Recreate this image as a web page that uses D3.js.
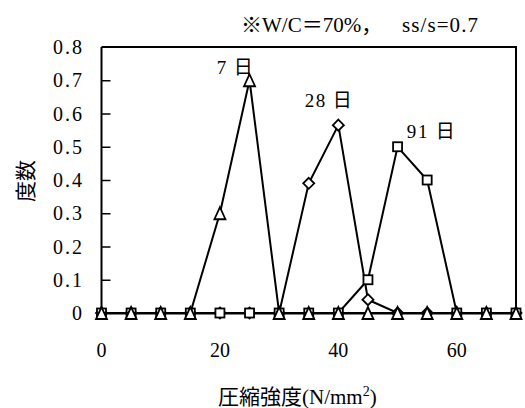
<!DOCTYPE html>
<html>
<head>
<meta charset="utf-8">
<script src="https://cdn.jsdelivr.net/npm/d3@7"></script>
<style>
  html, body { margin: 0; padding: 0; background: #fff; }
  svg { display: block; }
</style>
</head>
<body>
<svg id="chart" width="525" height="408"></svg>
<script>
// Compressive strength classes (N/mm²)
const strength = [0, 5, 10, 15, 20, 25, 30, 35, 40, 45, 50, 55, 60, 65, 70];
// Relative frequency at each age
const day7  = [0, 0, 0, 0, 0.3, 0.7, 0, 0, 0, 0, 0, 0, 0, 0, 0];
const day28 = [0, 0, 0, 0, 0, 0, 0, 0.39, 0.565, 0.04, 0, 0, 0, 0, 0];
const day91 = [0, 0, 0, 0, 0, 0, 0, 0, 0, 0.1, 0.5, 0.4, 0, 0, 0];
const xTicks = [0, 20, 40, 60];
const yTicks = [0, 0.1, 0.2, 0.3, 0.4, 0.5, 0.6, 0.7, 0.8];
const yTickLabels = ["0", "0.1", "0.2", "0.3", "0.4", "0.5", "0.6", "0.7", "0.8"];
const seriesNames = ["7 日", "28 日", "91 日"];
const titleParts = ["※W/C＝70%，", "ss/s=0.7"];
const xTitle = "圧縮強度(N/mm";
const yTitle = "度数";

const FONT = "'Liberation Serif', 'Times New Roman', 'Noto Sans CJK JP', serif";

const svg = d3.select("#chart").attr("font-family", FONT);
const x = d3.scaleLinear().domain([0, 70]).range([101.5, 516]);
const y = d3.scaleLinear().domain([0, 0.8]).range([313, 47]);

// plot frame: top and right edges
svg.append("path")
  .attr("d", `M${x(0)},${y(0.8)}H${x(70)}V${y(0)}`)
  .attr("fill", "none").attr("stroke", "#000").attr("stroke-width", 2);

// y axis with inward ticks
const yAxis = svg.append("g").attr("transform", `translate(${x(0)},0)`)
  .call(d3.axisRight(y).tickValues(yTicks).tickSize(9).tickFormat(() => ""));
yAxis.select(".domain").attr("stroke", "#000").attr("stroke-width", 2).attr("d", `M0,${y(0)}V${y(0.8)}`);
yAxis.selectAll(".tick line").attr("stroke", "#000").attr("stroke-width", 1.5);
yAxis.selectAll(".tick").filter(d => d === 0 || d === 0.8).select("line").remove();

svg.append("g").selectAll("text").data(yTicks).join("text")
  .attr("font-family", FONT)
  .attr("x", 82).attr("y", d => y(d)).attr("dy", "0.35em")
  .attr("text-anchor", "end").attr("font-size", 20)
  .each(function (d, i) {
    const s = yTickLabels[i];
    const t = d3.select(this).text(s);
    if (s.length > 1) t.attr("textLength", 29).attr("lengthAdjust", "spacing");
  });

// x axis
const xAxis = svg.append("g").attr("transform", `translate(0,${y(0)})`)
  .call(d3.axisBottom(x).tickValues(xTicks).tickSize(0).tickFormat(""));
xAxis.select(".domain").attr("stroke", "#000").attr("stroke-width", 2);

svg.append("g").selectAll("text").data(xTicks).join("text")
  .attr("font-family", FONT)
  .attr("x", d => x(d)).attr("y", 357)
  .attr("text-anchor", "middle").attr("font-size", 20)
  .text(d => d);

// series
const line = d3.line().x(d => x(d[0])).y(d => y(d[1]));
const pts = vals => strength.map((s, i) => [s, vals[i]]);
const drawLine = vals => svg.append("path").datum(pts(vals))
  .attr("d", line).attr("fill", "none").attr("stroke", "#000").attr("stroke-width", 2);

drawLine(day28);
svg.append("g").selectAll("path").data(pts(day28)).join("path")
  .attr("d", d => { const cx = x(d[0]), cy = y(d[1]); return `M${cx},${cy-5.5}L${cx+5.5},${cy}L${cx},${cy+5.5}L${cx-5.5},${cy}Z`; })
  .attr("fill", "#fff").attr("stroke", "#000").attr("stroke-width", 1.8);

drawLine(day91);
svg.append("g").selectAll("rect").data(pts(day91)).join("rect")
  .attr("x", d => x(d[0]) - 4.5).attr("y", d => y(d[1]) - 4.5)
  .attr("width", 9).attr("height", 9)
  .attr("fill", "#fff").attr("stroke", "#000").attr("stroke-width", 1.8);

drawLine(day7);
svg.append("g").selectAll("path").data(pts(day7)).join("path")
  .attr("d", d => { const cx = x(d[0]), cy = y(d[1]); return `M${cx},${cy-6}L${cx+5.5},${cy+6}L${cx-5.5},${cy+6}Z`; })
  .attr("fill", "#fff").attr("stroke", "#000").attr("stroke-width", 1.8);

// series labels, placed above each curve's peak in data units
const labelPos = [[22.5, 0.72, 36], [38.3, 0.62, 47], [55.6, 0.525, 48]];
svg.append("g").selectAll("text").data(seriesNames).join("text")
  .attr("font-family", FONT)
  .attr("x", (d, i) => x(labelPos[i][0])).attr("y", (d, i) => y(labelPos[i][1]))
  .attr("text-anchor", "middle").attr("font-size", 19)
  .attr("textLength", (d, i) => labelPos[i][2]).attr("lengthAdjust", "spacing")
  .text(d => d);

// title
svg.append("text").attr("font-family", FONT)
  .attr("x", 241).attr("y", 32).attr("font-size", 21)
  .text(titleParts[0]);
svg.append("text").attr("font-family", FONT)
  .attr("x", 402).attr("y", 32).attr("font-size", 21)
  .attr("textLength", 76).attr("lengthAdjust", "spacing")
  .text(titleParts[1]);

// axis titles
const xt = svg.append("text").attr("font-family", FONT).attr("x", 218).attr("y", 404)
  .attr("font-size", 21);
xt.append("tspan").text(xTitle);
xt.append("tspan").attr("dy", -8).attr("font-size", 14).text("2");
xt.append("tspan").attr("dy", 8).text(")");

svg.append("text").attr("font-family", FONT)
  .attr("transform", "translate(33,181) rotate(-90)")
  .attr("text-anchor", "middle").attr("font-size", 21).text(yTitle);
</script>
</body>
</html>
